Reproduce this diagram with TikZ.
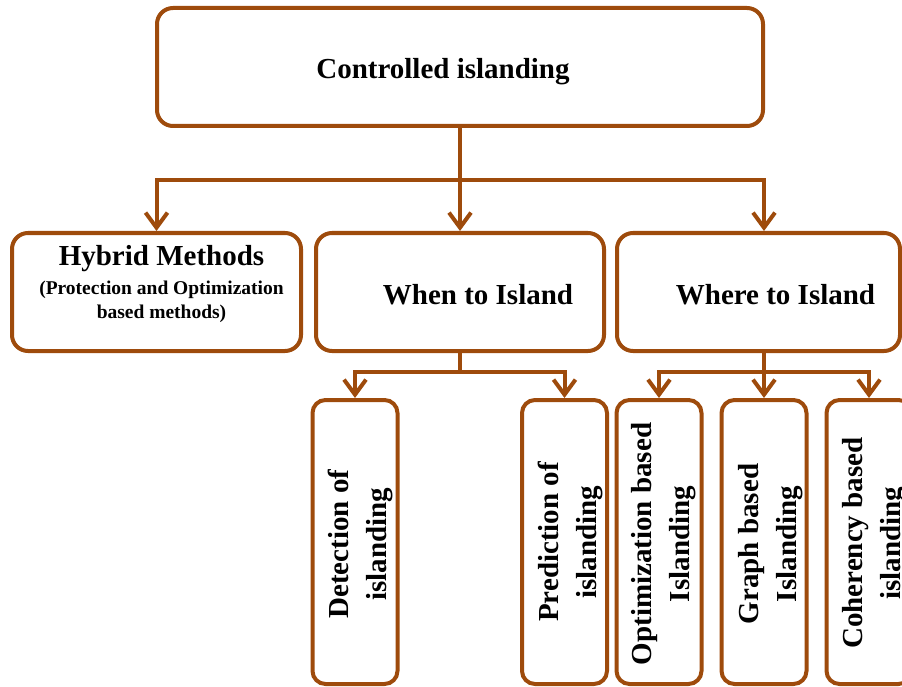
\documentclass[tikz,border=0pt]{standalone}
\usepackage{fontspec}
\setmainfont{Liberation Serif}
\usepackage{xcolor}
\usepackage{tikz}
\usetikzlibrary{arrows.meta, positioning}
\definecolor{islandbrown}{RGB}{158,75,12}

\begin{document}
\begin{tikzpicture}[x=1pt, y=-1pt,
    box/.style={rectangle, draw=islandbrown, line width=4pt, rounded corners=16pt, inner sep=0pt, minimum height=118pt},
    tallbox/.style={box, rounded corners=13pt, minimum width=85pt, minimum height=284pt},
    caption/.style={font=\bfseries\fontsize{29}{38}\selectfont, align=center},
    small/.style={font=\bfseries\fontsize{19.5}{24}\selectfont, align=center},
    link/.style={draw=islandbrown, line width=4pt},
    arrow/.style={link, -{Straight Barb[length=15pt, width=22pt]}}
]
    \useasboundingbox (0,0) rectangle (902,687);

    % Top level
    \node[box, minimum width=606pt, label={[caption, xshift=-17pt, yshift=-5pt]center:Controlled islanding}] (ctrl) at (460,67) {};

    % Second level
    \node[box, minimum width=289pt, label={[small, xshift=5pt, yshift=8pt]center:{\fontsize{29}{29}\selectfont Hybrid Methods}\\[5pt](Protection and Optimization\\based methods)}] (hybrid) at (156.5,292) {};
    \node[box, minimum width=288pt, label={[caption, xshift=18pt, yshift=-3pt]center:When to Island}] (when) at (460,292) {};
    \node[box, minimum width=283pt, label={[caption, xshift=17pt, yshift=-3pt]center:Where to Island}] (where) at (758.5,292) {};

    % Third level
    \node[tallbox, label={[caption, rotate=90, xshift=-2pt, yshift=-5pt]center:Detection of\\islanding}] (detect) at (355,542) {};
    \node[tallbox, label={[caption, rotate=90, yshift=-6pt]center:Prediction of\\islanding}] (predict) at (564.5,542) {};
    \node[tallbox, label={[caption, rotate=90, xshift=-2pt, yshift=-5pt]center:Optimization based\\Islanding}] (optim) at (659,542) {};
    \node[tallbox, label={[caption, rotate=90, xshift=-2pt, yshift=-7pt]center:Graph based\\Islanding}] (graph) at (764,542) {};
    \node[tallbox, label={[caption, rotate=90, xshift=-1pt, yshift=-6pt]center:Coherency based\\islanding}] (coher) at (869,542) {};

    % Joints
    \coordinate (ctrljoin) at (460,180);
    \coordinate (whenjoin) at (460,372);
    \coordinate (wherejoin) at (764,372);

    % Arrows
    \draw[link] (ctrl) -- (ctrljoin);
    \draw[arrow] (ctrljoin) -| (hybrid.north);
    \draw[arrow] (ctrljoin) -- (when.north);
    \draw[arrow] (ctrljoin) -| (where.north -| wherejoin);

    \draw[link] (when) -- (whenjoin);
    \draw[arrow] (whenjoin) -| (detect.north);
    \draw[arrow] (whenjoin) -| (predict.north);

    \draw[link] (where.south -| wherejoin) -- (wherejoin);
    \draw[arrow] (wherejoin) -| (optim.north);
    \draw[arrow] (wherejoin) -- (graph.north);
    \draw[arrow] (wherejoin) -| (coher.north);
\end{tikzpicture}
\end{document}
